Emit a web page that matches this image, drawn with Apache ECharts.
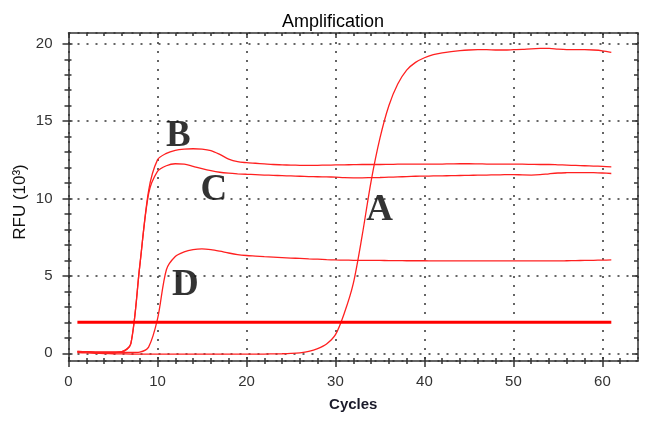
<!DOCTYPE html>
<html><head><meta charset="utf-8">
<script src="https://cdn.jsdelivr.net/npm/echarts@6/dist/echarts.min.js"></script>
<style>html,body{margin:0;padding:0;background:#fff}#c{width:651px;height:425px}</style>
</head><body><div id="c"></div>
<script>
const cycles = [1,2,3,4,5,6,7,8,9,10,11,12,13,14,15,16,17,18,19,20,21,22,23,24,25,26,27,28,29,30,31,32,33,34,35,36,37,38,39,40,41,42,43,44,45,46,47,48,49,50,51,52,53,54,55,56,57,58,59,60,61];
const seriesA = [0.05,0.02,0.0,-0.02,-0.03,-0.04,-0.05,-0.05,-0.05,-0.05,-0.05,-0.05,-0.05,-0.05,-0.05,-0.05,-0.05,-0.05,-0.05,-0.05,-0.05,-0.05,-0.04,-0.03,-0.01,0.03,0.12,0.3,0.6,1.2,2.6,4.5,7.6,11.1,13.9,16.0,17.4,18.3,18.8,19.1,19.3,19.42,19.5,19.56,19.6,19.62,19.62,19.6,19.6,19.62,19.64,19.68,19.7,19.7,19.66,19.63,19.62,19.62,19.6,19.55,19.45];
const seriesB = [0.12,0.1,0.08,0.07,0.07,0.1,0.6,5.6,10.5,12.5,12.92,13.12,13.2,13.22,13.2,13.1,12.85,12.55,12.38,12.32,12.28,12.24,12.2,12.18,12.16,12.15,12.14,12.15,12.16,12.17,12.18,12.19,12.2,12.2,12.2,12.21,12.22,12.23,12.23,12.22,12.22,12.23,12.24,12.25,12.25,12.24,12.23,12.22,12.22,12.22,12.22,12.21,12.2,12.2,12.18,12.16,12.14,12.12,12.1,12.08,12.05];
const seriesC = [0.12,0.1,0.08,0.07,0.07,0.1,0.6,5.6,10.3,11.75,12.12,12.25,12.22,12.08,11.93,11.8,11.7,11.64,11.6,11.57,11.55,11.52,11.5,11.48,11.46,11.44,11.42,11.41,11.4,11.38,11.35,11.34,11.34,11.35,11.36,11.38,11.4,11.42,11.44,11.45,11.46,11.47,11.48,11.49,11.5,11.51,11.52,11.53,11.54,11.55,11.53,11.52,11.54,11.6,11.65,11.67,11.68,11.68,11.67,11.65,11.62];
const seriesD = [0.08,0.07,0.06,0.05,0.05,0.05,0.05,0.08,0.4,2.2,5.4,6.25,6.55,6.7,6.75,6.7,6.6,6.48,6.38,6.32,6.28,6.24,6.21,6.18,6.15,6.13,6.1,6.08,6.05,6.03,6.02,6.01,6.0,6.0,6.0,5.99,5.99,5.98,5.98,5.98,5.97,5.97,5.97,5.97,5.97,5.97,5.97,5.97,5.97,5.97,5.97,5.97,5.97,5.97,5.97,5.98,5.99,6.0,6.01,6.02,6.03];
const thresholdValue = 2;
const thresholdCycles = [1, 61];
const xMajorTicks = [0,10,20,30,40,50,60];
const xMinorTicks = [2,4,6,8,12,14,16,18,22,24,26,28,32,34,36,38,42,44,46,48,52,54,56,58,62];
const yMajorTicks = [0,5,10,15,20];
const yMinorTicks = [1,2,3,4,6,7,8,9,11,12,13,14,16,17,18,19];
const curveLabels = [
  {name:'A', cycle:34.95, rfu:9.26},
  {name:'B', cycle:12.34, rfu:14.0},
  {name:'C', cycle:16.33, rfu:10.5},
  {name:'D', cycle:13.13, rfu:4.4}
];

const X_MIN = 0, X_MAX = 64, Y_MIN = -0.5, Y_MAX = 20.7;
const AX = '#333';
const tickStyle = {color: AX, width: 1.5};

function xAx(extra) {
  return Object.assign({type:'value', min:X_MIN, max:X_MAX, gridIndex:0,
    axisLine:{show:false, onZero:false}, axisTick:{show:false}, axisLabel:{show:false},
    splitLine:{show:false}}, extra);
}
function yAx(extra) {
  return Object.assign({type:'value', min:Y_MIN, max:Y_MAX, gridIndex:0,
    axisLine:{show:false, onZero:false}, axisTick:{show:false}, axisLabel:{show:false},
    splitLine:{show:false}}, extra);
}
const labelFont = {color:'#333', fontSize:15, fontFamily:'Liberation Sans'};

const chart = echarts.init(document.getElementById('c'), null, {renderer:'canvas'});
const line = (data, name) => ({
  type:'line', name, xAxisIndex:0, yAxisIndex:0, showSymbol:false, smooth:0.3,
  data: cycles.map((c,i)=>[c, data[i]]),
  lineStyle:{color:'#ff2020', width:1.3}, z:3
});
chart.setOption({
  animation:false,
  title:{text:'Amplification', left:277, top:8,
    textStyle:{fontSize:18, fontWeight:'normal', color:'#000', fontFamily:'Liberation Sans'}},
  grid:{left:68.5, right:13, top:33, bottom:64, containLabel:false},
  xAxis:[
    xAx({position:'bottom', interval:10,
      axisLine:{show:true, onZero:false, lineStyle:{color:AX, width:1.5}},
      axisLabel:Object.assign({show:true, customValues:xMajorTicks, margin:13}, labelFont),
      splitLine:{show:true, lineStyle:{type:[2,7], color:AX, width:1.5}},
      name:'Cycles', nameLocation:'middle', nameGap:36,
      nameTextStyle:{fontSize:15, fontWeight:'bold', color:'#1a1a2a', fontFamily:'Liberation Sans'}}),
    xAx({position:'bottom', offset:-4, axisTick:{show:true, customValues:xMajorTicks, length:10, lineStyle:tickStyle}}),
    xAx({position:'bottom', offset:-3, axisTick:{show:true, customValues:xMinorTicks, length:6, lineStyle:tickStyle}}),
    xAx({position:'top', axisLine:{show:true, onZero:false, lineStyle:{color:AX, width:1.5}},
      axisTick:{show:true, inside:true, customValues:xMajorTicks, length:5, lineStyle:tickStyle}}),
    xAx({position:'top', axisTick:{show:true, inside:true, customValues:xMinorTicks, length:3, lineStyle:tickStyle}})
  ],
  yAxis:[
    yAx({position:'left', splitNumber:4,
      axisLine:{show:true, onZero:false, lineStyle:{color:AX, width:1.5}},
      axisLabel:Object.assign({show:true, customValues:yMajorTicks, margin:16}, labelFont),
      splitLine:{show:true, lineStyle:{type:[2,7], color:AX, width:1.5}}}),
    yAx({position:'left', offset:-4, axisTick:{show:true, customValues:yMajorTicks, length:10, lineStyle:tickStyle}}),
    yAx({position:'left', offset:-3, axisTick:{show:true, customValues:yMinorTicks, length:7, lineStyle:tickStyle}}),
    yAx({position:'right', axisLine:{show:true, onZero:false, lineStyle:{color:AX, width:1.5}},
      axisTick:{show:true, inside:true, customValues:yMajorTicks, length:6, lineStyle:tickStyle}}),
    yAx({position:'right', axisTick:{show:true, inside:true, customValues:yMinorTicks, length:4, lineStyle:tickStyle}})
  ],
  graphic:[{type:'text', x:20, y:202, rotation:Math.PI/2,
    style:{text:'RFU (10³)', fontSize:17, fontFamily:'Liberation Sans', fill:'#111', align:'center', verticalAlign:'middle'}}],
  series:[
    line(seriesA,'A'), line(seriesB,'B'), line(seriesC,'C'), line(seriesD,'D'),
    {type:'line', name:'threshold', xAxisIndex:0, yAxisIndex:0, showSymbol:false,
      data:[[thresholdCycles[0], thresholdValue],[thresholdCycles[1], thresholdValue]],
      lineStyle:{color:'#ff0000', width:3}, z:4},
    {type:'scatter', xAxisIndex:0, yAxisIndex:0, symbolSize:1,
      itemStyle:{color:'rgba(0,0,0,0)'},
      data: curveLabels.map(l=>({name:l.name, value:[l.cycle, l.rfu]})),
      label:{show:true, position:'inside', formatter:'{b}', fontFamily:'Liberation Serif',
        fontWeight:'bold', fontSize:37, color:'#000'}, z:5}
  ]
});
</script></body></html>
